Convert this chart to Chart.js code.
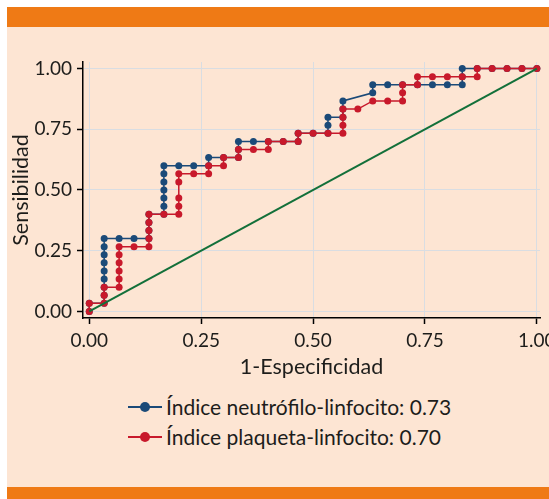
<!DOCTYPE html>
<html>
<head>
<meta charset="utf-8">
<script src="https://cdn.jsdelivr.net/npm/chart.js@4"></script>
<style>
  body { margin: 0; background: #fff; font-family: Lato, sans-serif; }
  #wrap { position: relative; width: 549px; height: 499px; overflow: hidden; }
  .band { position: absolute; left: 7px; width: 542px; background: #ef7a15; }
  #panel { position: absolute; left: 7px; top: 27px; width: 542px; height: 460px; background: #fde5d3; }
  #myChart { position: absolute; left: 0; top: 27px; }
  .leg { position: absolute; left: 128px; height: 24px; font-size: 21px; color: #1d1d1b; line-height: 24px; white-space: nowrap; }
  .leg .ln { position: absolute; left: 0; top: 11px; width: 34px; height: 2px; }
  .leg .dot { position: absolute; left: 12px; top: 7px; width: 10px; height: 10px; border-radius: 50%; }
  .leg .tx { position: absolute; left: 38px; top: 0; }
</style>
</head>
<body>
<div id="wrap">
  <div class="band" style="top:7px;height:20px"></div>
  <div id="panel"></div>
  <div class="band" style="top:487px;height:12px"></div>
  <canvas id="myChart" width="549" height="360"></canvas>
  <div class="leg" style="top:395px">
    <span class="ln" style="background:#1b4a78"></span><span class="dot" style="background:#1b4a78"></span>
    <span class="tx">Índice neutrófilo-linfocito: 0.73</span>
  </div>
  <div class="leg" style="top:425px">
    <span class="ln" style="background:#c8192b"></span><span class="dot" style="background:#c8192b"></span>
    <span class="tx">Índice plaqueta-linfocito: 0.70</span>
  </div>
</div>
<script>
// ROC points (1 - specificity, sensitivity)
const nlrFpr = [0, 0, 0.0333, 0.0333, 0.0333, 0.0333, 0.0333, 0.0333, 0.0333, 0.0333, 0.0333,
    0.0667, 0.1, 0.1333, 0.1333, 0.1333, 0.1333, 0.1667, 0.1667, 0.1667, 0.1667, 0.1667, 0.1667, 0.1667,
    0.2, 0.2333, 0.2667, 0.2667, 0.3, 0.3333, 0.3333, 0.3333, 0.3667, 0.4, 0.4333, 0.4667, 0.4667,
    0.5, 0.5333, 0.5333, 0.5333, 0.5667, 0.5667, 0.5667, 0.6333, 0.6333, 0.6667, 0.7, 0.7333, 0.7667,
    0.8, 0.8333, 0.8333, 0.8333, 0.8667, 0.9, 0.9333, 0.9667, 1];
const nlrSens = [0, 0.0333, 0.0333, 0.0667, 0.1, 0.1333, 0.1667, 0.2, 0.2333, 0.2667, 0.3,
    0.3, 0.3, 0.3, 0.3333, 0.3667, 0.4, 0.4, 0.4333, 0.4667, 0.5, 0.5333, 0.5667, 0.6,
    0.6, 0.6, 0.6, 0.6333, 0.6333, 0.6333, 0.6667, 0.7, 0.7, 0.7, 0.7, 0.7, 0.7333,
    0.7333, 0.7333, 0.7667, 0.8, 0.8, 0.8333, 0.8667, 0.9, 0.9333, 0.9333, 0.9333, 0.9333, 0.9333,
    0.9333, 0.9333, 0.9667, 1, 1, 1, 1, 1, 1];

const plrFpr = [0, 0, 0.0333, 0.0333, 0.0333, 0.0667, 0.0667, 0.0667, 0.0667, 0.0667, 0.0667,
    0.1, 0.1333, 0.1333, 0.1333, 0.1333, 0.1333, 0.1667, 0.2, 0.2, 0.2, 0.2, 0.2,
    0.2333, 0.2667, 0.2667, 0.3, 0.3, 0.3333, 0.3333, 0.3667, 0.4, 0.4, 0.4333, 0.4667, 0.4667,
    0.5, 0.5333, 0.5667, 0.5667, 0.5667, 0.5667, 0.6, 0.6333, 0.6667, 0.7, 0.7, 0.7,
    0.7333, 0.7333, 0.7667, 0.8, 0.8333, 0.8667, 0.8667, 0.9, 0.9333, 0.9667, 1];
const plrSens = [0, 0.0333, 0.0333, 0.0667, 0.1, 0.1, 0.1333, 0.1667, 0.2, 0.2333, 0.2667,
    0.2667, 0.2667, 0.3, 0.3333, 0.3667, 0.4, 0.4, 0.4, 0.4333, 0.4667, 0.5333, 0.5667,
    0.5667, 0.5667, 0.6, 0.6, 0.6333, 0.6333, 0.6667, 0.6667, 0.6667, 0.7, 0.7, 0.7, 0.7333,
    0.7333, 0.7333, 0.7333, 0.7667, 0.8, 0.8333, 0.8333, 0.8667, 0.8667, 0.8667, 0.9, 0.9333,
    0.9333, 0.9667, 0.9667, 0.9667, 0.9667, 0.9667, 1, 1, 1, 1, 1];

const refX = [0, 1];
const refY = [0, 1];

const tickValues = [0, 0.25, 0.5, 0.75, 1];
const tickLabels = ['0.00', '0.25', '0.50', '0.75', '1.00'];

function toPoints(xs, ys) {
    return xs.map((x, i) => ({ x: x, y: ys[i] }));
}

Chart.defaults.font.family = 'Lato, sans-serif';
Chart.defaults.font.size = 19;
Chart.defaults.color = '#1d1d1b';

const gridOpts = {
    color: '#d9dde2',
    lineWidth: 1,
    tickColor: '#000',
    tickLength: 6,
    tickWidth: 1.5
};

function fixTicks(scale) {
    scale.ticks = tickValues.map(v => ({ value: v }));
}

const ctx = document.getElementById('myChart').getContext('2d');
const chart = new Chart(ctx, {
    type: 'scatter',
    data: {
        datasets: [
            {
                label: 'Índice neutrófilo-linfocito: 0.73',
                data: toPoints(nlrFpr, nlrSens),
                showLine: true,
                borderColor: '#1b4a78',
                backgroundColor: '#1b4a78',
                borderWidth: 1.5,
                pointRadius: 3.5,
                pointBorderWidth: 0,
                order: 3,
                clip: false
            },
            {
                label: 'Índice plaqueta-linfocito: 0.70',
                data: toPoints(plrFpr, plrSens),
                showLine: true,
                borderColor: '#c8192b',
                backgroundColor: '#c8192b',
                borderWidth: 1.5,
                pointRadius: 3.5,
                pointBorderWidth: 0,
                order: 2,
                clip: false
            },
            {
                label: 'ref',
                data: toPoints(refX, refY),
                showLine: true,
                borderColor: '#13703a',
                borderWidth: 2,
                pointRadius: 0,
                order: 1,
                clip: false
            }
        ]
    },
    options: {
        responsive: false,
        animation: false,
        layout: { padding: { top: 35, right: 9, left: 0, bottom: 0 } },
        plugins: {
            legend: { display: false },
            tooltip: { enabled: false }
        },
        scales: {
            x: {
                type: 'linear',
                min: -0.014,
                max: 1.007,
                afterBuildTicks: fixTicks,
                afterFit: s => { s.height = 69; s.paddingLeft = 0; s.paddingRight = 0; },
                ticks: {
                    padding: 5,
                    maxRotation: 0,
                    callback: (v) => tickLabels[tickValues.indexOf(v)]
                },
                grid: gridOpts,
                border: { color: '#000', width: 1.5 },
                title: { display: true, text: '1-Especificidad', font: { size: 21.5 }, padding: { top: 0, bottom: 7 } }
            },
            y: {
                type: 'linear',
                min: -0.027,
                max: 1.027,
                afterBuildTicks: fixTicks,
                afterFit: s => { s.width = 83; },
                ticks: {
                    padding: 5,
                    callback: (v) => tickLabels[tickValues.indexOf(v)]
                },
                grid: gridOpts,
                border: { color: '#000', width: 1.5 },
                title: { display: true, text: 'Sensibilidad', font: { size: 21.5 }, padding: { top: 8, bottom: 0 } }
            }
        }
    }
});
</script>
</body>
</html>
